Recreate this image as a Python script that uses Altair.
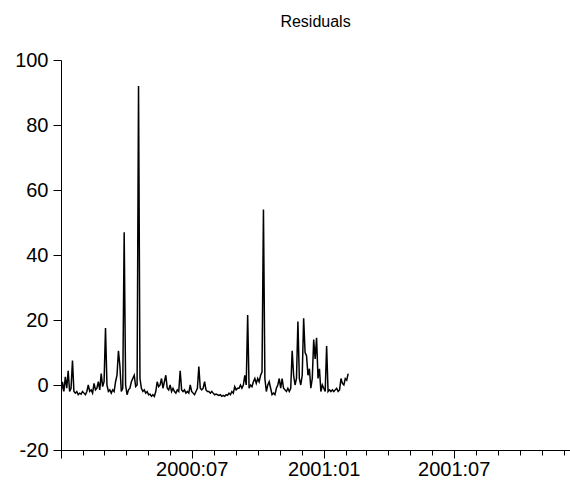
import altair as alt
import pandas as pd

# Residual series, sampled every 2 days starting 2000-01-01
start_date = "2000-01-01"
step = "2D"
residuals = [
    -3, 1, -2, 2.5, -1, 4.4, -2, -1, 7.5, -2,
    -2.5, -2, -3, -2.5, -2.8, -2, -2.5, -3, -2, 0,
    -2, -1.5, -2.5, 0.5, -1.5, -1, 1, -1.5, 3.5, -0.5,
    1, 17.5, 0, -2, -1.5, -2.5, -1.5, -2, 1, 3,
    10.5, 6, -2, -1, 47, 0, -3, -1.5, -1, 1,
    2, 3, -0.5, 0, 92, 2, -1, -2, -1.5, -2.5,
    -2, -3, -2.8, -3.5, -3, -3.5, -2, 1, -0.5, 0,
    2, -1, 1, 3, -1, -1.5, 0, -2, -1, -2,
    -2.5, -1.5, -2, 4.4, -1.5, -2, -1.5, -2.5, -2, -2.5,
    0, -2, -2.5, -3, -2, -1, 5.7, -1, -1.5, -1,
    1, -1.5, -2, -2, -2.5, -2, -2.5, -3, -2.8, -3,
    -3.2, -3, -3.5, -3.2, -3.5, -3, -3.2, -2.5, -3, -2,
    -2.5, -0.5, -1.5, -1, -1, 0, -1, 0, 3, 0,
    21.5, -1, 0, -0.5, 1, 2, 0.5, 2, 1, 3,
    4, 54, 2, -2, 0, 1, -1, -3, -2.5, -3,
    -1, 0, 2, -1, 2, -1, -1.5, -2, -1, -2,
    -1, 10.5, 3, 0, 2, 19.5, 2, 0, 3, 20.5,
    10, 9, 3, 5, -1, 2, 14, 8, 14.5, 2,
    5, -2, 0, -1, -2, 12, -2, -1.5, -2, -1.5,
    -2, -1.5, -1, -2, -1.5, 2, 0.5, 0, 2, 1.5,
    3.5,
]

x_domain = ["2000-01-01", "2001-12-10"]
y_domain = [-20, 100]
y_ticks = [-20, 0, 20, 40, 60, 80, 100]
month_ticks = pd.date_range("2000-01-01", "2001-12-01", freq="MS")

dates = pd.date_range(start_date, periods=len(residuals), freq=step)
df = pd.DataFrame({"date": dates.strftime("%Y-%m-%d"), "value": residuals})

tick_vals = [int(t.value // 10**6) for t in month_ticks]

FONT = "Liberation Sans"

major = "(utcmonth(datum.value) == 0 || utcmonth(datum.value) == 6)"
label_expr = (
    f"{major} && !(utcyear(datum.value) == 2000 && utcmonth(datum.value) == 0)"
    " ? utcFormat(datum.value, '%Y:%m') : ''"
)

chart = (
    alt.Chart(df)
    .mark_line(color="black", strokeWidth=1.5, clip=True)
    .encode(
        x=alt.X(
            "date:T",
            scale=alt.Scale(type="utc", domain=x_domain, nice=False),
            axis=alt.Axis(
                title=None,
                values=tick_vals,
                labelExpr=label_expr,
                tickSize={"condition": {"test": major, "value": 8}, "value": 5},
                tickColor="black",
                domainColor="black",
                labelColor="black",
                labelFont=FONT,
                labelFontSize=20,
                labelPadding=1,
                labelOverlap=False,
                labelFlush=False,
                grid=False,
            ),
        ),
        y=alt.Y(
            "value:Q",
            scale=alt.Scale(domain=y_domain, nice=False, zero=False),
            axis=alt.Axis(
                title=None,
                values=y_ticks,
                labelExpr="'' + datum.value",
                tickSize=8,
                tickColor="black",
                domainColor="black",
                labelColor="black",
                labelFont=FONT,
                labelFontSize=20,
                labelPadding=5,
                grid=False,
            ),
        ),
    )
    .properties(
        width=509,
        height=390,
        background="white",
        title=alt.Title(
            "Residuals",
            font=FONT,
            fontSize=16,
            fontWeight="normal",
            color="black",
            anchor="middle",
            offset=20,
        ),
        autosize=alt.AutoSizeParams(type="none"),
        padding={"left": 61, "top": 60, "right": 0, "bottom": 33},
    )
    .configure_view(stroke="transparent", strokeWidth=0)
)

chart.save("out.html", embed_options={"renderer": "svg", "actions": False})
